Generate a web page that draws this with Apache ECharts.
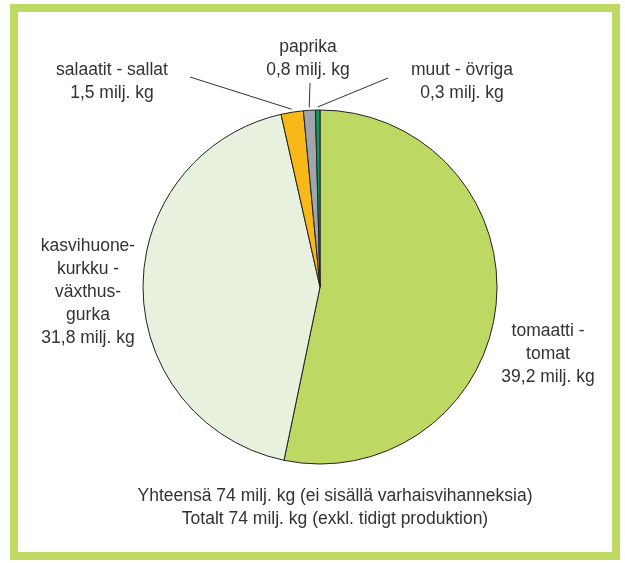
<!DOCTYPE html>
<html>
<head>
<meta charset="utf-8">
<script src="https://cdn.jsdelivr.net/npm/echarts@6/dist/echarts.min.js"></script>
<style>
  html, body { margin: 0; padding: 0; background: #fff; }
  #chart { width: 625px; height: 563px; }
</style>
</head>
<body>
<div id="chart"></div>
<script>
// Data
var names = ['tomaatti -\ntomat', 'kasvihuone-\nkurkku -\nväxthus-\ngurka', 'salaatit - sallat', 'paprika', 'muut - övriga'];
var values = [39.2, 31.8, 1.5, 0.8, 0.3];
var colors = ['#bed963', '#e8f1de', '#f8b817', '#a2a5ab', '#12985a'];
var totalLines = ['Yhteensä 74 milj. kg (ei sisällä varhaisvihanneksia)', 'Totalt 74 milj. kg (exkl. tidigt produktion)'];

// label spots and leader line ends (layout only)
var center = [320, 287];
var radius = 177;
var labelPos = [[548, 354], [88, 292], [112, 82], [308, 59], [462, 82]];
var lineEnd = [null, null, [190, 77], [310, 83], [388, 78]];

var font = "'Liberation Sans Narrow', 'Arial Narrow', 'Liberation Sans', sans-serif";
var chart = echarts.init(document.getElementById('chart'));

var total = values.reduce(function (a, b) { return a + b; }, 0);
// mid angle of each slice, clockwise from 12 o'clock
var midAngles = [];
var acc = 0;
values.forEach(function (v) {
    midAngles.push((acc + v / 2) / total * Math.PI * 2);
    acc += v;
});

var data = values.map(function (v, i) {
    return {
        name: names[i],
        value: v,
        itemStyle: { color: colors[i] },
        labelLine: { show: !!lineEnd[i] }
    };
});

chart.setOption({
    animation: false,
    graphic: [{
        type: 'rect',
        shape: { x: 14, y: 8, width: 602, height: 548 },
        style: { fill: 'none', stroke: '#bfda62', lineWidth: 8 }
    }],
    title: {
        text: totalLines.join('\n'),
        left: 330,
        top: 480,
        textAlign: 'center',
        textStyle: { fontFamily: font, fontSize: 17.5, fontWeight: 'normal', color: '#333', lineHeight: 23 }
    },
    series: [{
        type: 'pie',
        center: center,
        radius: [0, radius],
        startAngle: 90,
        clockwise: true,
        data: data,
        itemStyle: { borderColor: '#222', borderWidth: 1 },
        label: {
            show: true,
            position: 'outside',
            overflow: 'none',
            formatter: function (p) {
                return p.name + '\n' + String(p.value).replace('.', ',') + ' milj. kg';
            },
            fontFamily: font,
            fontSize: 17.5,
            lineHeight: 23,
            color: '#333',
            align: 'center'
        },
        labelLine: {
            show: true,
            smooth: false,
            lineStyle: { color: '#333', width: 1 }
        },
        labelLayout: function (p) {
            var i = p.dataIndex;
            var pos = labelPos[i];
            var out = { x: pos[0], y: pos[1], align: 'center', verticalAlign: 'middle' };
            if (lineEnd[i]) {
                var a = midAngles[i];
                var r = radius + 3;
                out.labelLinePoints = [
                    [center[0] + r * Math.sin(a), center[1] - r * Math.cos(a)],
                    lineEnd[i]
                ];
            }
            return out;
        }
    }]
});
</script>
</body>
</html>
